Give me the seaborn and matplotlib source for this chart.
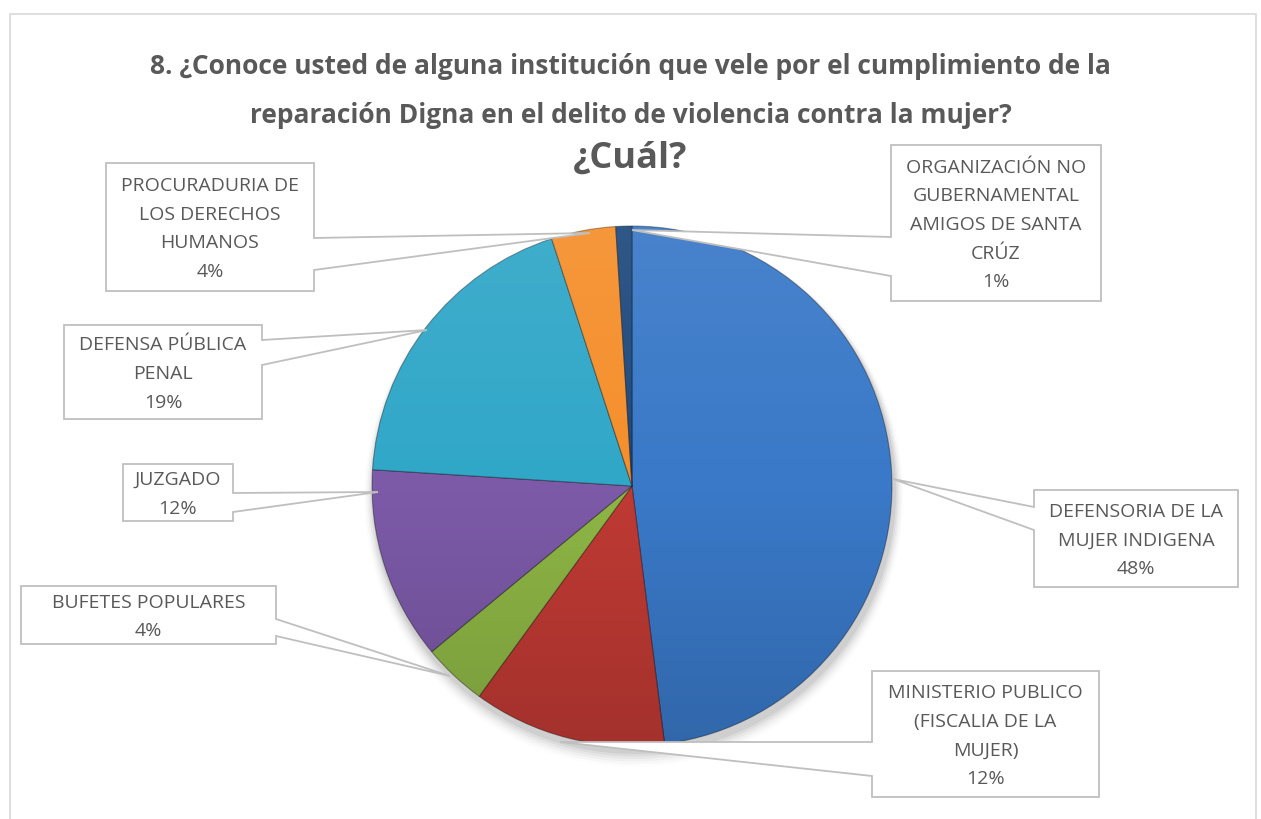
import numpy as np
import matplotlib
matplotlib.use("Agg")
import matplotlib.pyplot as plt
from matplotlib.patches import Polygon, Circle, Rectangle
import seaborn as sns

# ── Data ─────────────────────────────────────────────────────────────────────
categories = [
    "DEFENSORIA DE LA\nMUJER INDIGENA",
    "MINISTERIO PUBLICO\n(FISCALIA DE LA\nMUJER)",
    "BUFETES POPULARES",
    "JUZGADO",
    "DEFENSA PÚBLICA\nPENAL",
    "PROCURADURIA DE\nLOS DERECHOS\nHUMANOS",
    "ORGANIZACIÓN NO\nGUBERNAMENTAL\nAMIGOS DE SANTA\nCRÚZ",
]
percent = [48, 12, 4, 12, 19, 4, 1]
colors = ["#3A79C8", "#C03A34", "#8EB645", "#7C5AA8", "#31A7C8", "#F58F2C", "#1F4A7E"]

TITLE = ("8. ¿Conoce usted de alguna institución que vele por el cumplimiento de la\n"
         "reparación Digna en el delito de violencia contra la mujer?")
SUBTITLE = "¿Cuál?"

# ── Layout (pixel coords, y measured from top) ───────────────────────────────
W, H = 1261, 820
CENTER = (632, 487)
RADIUS = 260
# box (x0, y0, x1, y1), pointer side, pointer base ya/yb, tip
callouts = [
    ((1034, 491, 1238, 588), "left", 508, 531, (893, 480)),
    ((872, 672, 1099, 798), "left", 743, 777, (560, 743)),
    ((21, 587, 276, 645), "right", 620, 637, (450, 677)),
    ((123, 465, 233, 522), "right", 494, 513, (378, 493)),
    ((64, 326, 262, 420), "right", 341, 366, (427, 331)),
    ((106, 164, 314, 292), "right", 239, 271, (590, 234)),
    ((891, 146, 1101, 302), "left", 238, 277, (632, 231)),
]

sns.set_theme(style="white")
plt.rcParams["font.family"] = ["Open Sans", "DejaVu Sans"]


def fy(y):
    return H - y


fig = plt.figure(figsize=(W / 100, H / 100), dpi=100)
ax = fig.add_axes([0, 0, 1, 1])

# soft shadow under the pie
for i, a in enumerate(np.linspace(0.05, 0.01, 6)):
    ax.add_patch(Circle((CENTER[0] + 2, fy(CENTER[1]) - 6 - i), RADIUS + 2 + i * 1.5,
                        color="black", alpha=a, lw=0, zorder=1))

wedges, _ = ax.pie(
    percent, colors=colors, startangle=90, counterclock=False,
    center=(CENTER[0], fy(CENTER[1])), radius=RADIUS,
    wedgeprops=dict(edgecolor=(0, 0, 0, 0.35), linewidth=0.8, zorder=2),
)

# light-to-dark vertical shading clipped to the pie
grad = np.linspace(0, 1, 256)[:, None]
rgba = np.zeros((256, 1, 4))
rgba[..., :3] = np.where(grad[..., None] < 0.5, 1.0, 0.0)
rgba[..., 3] = np.where(grad < 0.5, (0.5 - grad) * 0.15, (grad - 0.5) * 0.3)
clip = Circle((CENTER[0], fy(CENTER[1])), RADIUS, transform=ax.transData)
im = ax.imshow(rgba, extent=(CENTER[0] - RADIUS, CENTER[0] + RADIUS,
                             fy(CENTER[1]) - RADIUS, fy(CENTER[1]) + RADIUS),
               aspect="auto", zorder=3, interpolation="bilinear")
im.set_clip_path(clip)

# callout boxes
for (box, side, ya, yb, tip), label, p in zip(callouts, categories, percent):
    x0, y0, x1, y1 = box
    if side == "left":
        pts = [(x0, y0), (x1, y0), (x1, y1), (x0, y1), (x0, yb), tip, (x0, ya)]
    else:
        pts = [(x0, y0), (x1, y0), (x1, ya), tip, (x1, yb), (x1, y1), (x0, y1)]
    pts = [(x, fy(y)) for x, y in pts]
    ax.add_patch(Polygon(pts, closed=True, facecolor="white", edgecolor="#BFBFBF",
                         lw=1.3, zorder=5))
    ax.text((x0 + x1) / 2, fy((y0 + y1) / 2) - 1, f"{label}\n{p}%", ha="center",
            va="center", fontsize=14, color="#595959", linespacing=1.76, zorder=6)

# titles
ax.text(W / 2, fy(91), TITLE, ha="center", va="center", fontsize=19,
        fontweight="bold", color="#595959", linespacing=2.05)
ax.text(W / 2, fy(159), SUBTITLE, ha="center", va="center", fontsize=26,
        fontweight="bold", color="#595959")

# chart-area border
ax.add_patch(Rectangle((10, fy(830)), 1246, 815, fill=False, edgecolor="#D9D9D9",
                       lw=1.2, zorder=0))

ax.set_xlim(0, W)
ax.set_ylim(0, H)
ax.set_aspect("auto")
ax.axis("off")

plt.savefig("out.png", dpi=100)
plt.close()
